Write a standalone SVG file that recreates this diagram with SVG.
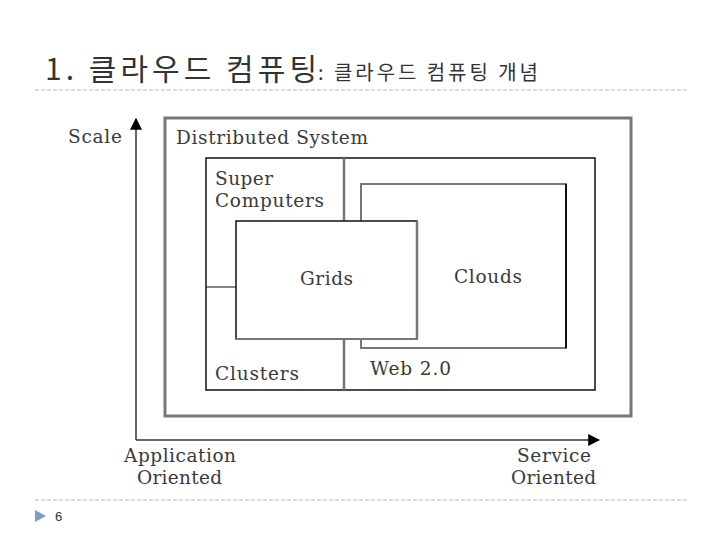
<svg xmlns="http://www.w3.org/2000/svg" width="720" height="540" viewBox="0 0 720 540">
<style>
.t{font-family:"DejaVu Serif","Liberation Serif",serif;font-size:18.5px;fill:#3a3a3a}
.h{font-family:"Noto Sans CJK KR","Liberation Sans",sans-serif;fill:#333}
.dash{stroke:#b8b8b8;stroke-width:1;stroke-dasharray:4 2}
</style>
<defs>
<marker id="ah" viewBox="0 0 10 10" refX="9" refY="5" markerWidth="12" markerHeight="12" markerUnits="userSpaceOnUse" orient="auto"><path d="M0,0 L10,5 L0,10 z" fill="#000"/></marker>
</defs>
<rect width="720" height="540" fill="#fff"/>
<g id="title">
<text x="45" y="80" class="h" font-size="30" textLength="272" lengthAdjust="spacing">1. 클라우드 컴퓨팅</text>
<text x="318" y="80" class="h" font-size="20" textLength="220" lengthAdjust="spacing">: 클라우드 컴퓨팅 개념</text>
<line x1="35" y1="90" x2="688" y2="90" class="dash"/>
</g>
<g id="connectors">
<line x1="136" y1="440" x2="136" y2="119" stroke="#333" stroke-width="1.5" marker-end="url(#ah)"/>
<line x1="136" y1="440" x2="599" y2="440" stroke="#333" stroke-width="1.5" marker-end="url(#ah)"/>
</g>
<g id="distributed">
<rect x="165" y="118" width="466" height="298" fill="#fff" stroke="#777" stroke-width="3"/>
<text x="176" y="144" class="t" textLength="192" lengthAdjust="spacing">Distributed System</text>
</g>
<g id="inner">
<rect x="206" y="158" width="389" height="232" fill="#fff" stroke="#111" stroke-width="1.5"/>
<line x1="344" y1="158" x2="344" y2="390" stroke="#777" stroke-width="2.5"/>
<line x1="206" y1="287" x2="236" y2="287" stroke="#111" stroke-width="1"/>
<text x="215" y="185" class="t" textLength="58" lengthAdjust="spacing">Super</text>
<text x="215" y="207" class="t" textLength="109" lengthAdjust="spacing">Computers</text>
<text x="215" y="380" class="t" textLength="84" lengthAdjust="spacing">Clusters</text>
<text x="370" y="375" class="t" textLength="81" lengthAdjust="spacing">Web 2.0</text>
</g>
<g id="clouds">
<rect x="361" y="184" width="205" height="164" fill="#fff" stroke="#777" stroke-width="2"/>
<line x1="566" y1="184" x2="566" y2="348" stroke="#111" stroke-width="2"/>
<text x="454" y="283" class="t" textLength="68" lengthAdjust="spacing">Clouds</text>
</g>
<g id="grids">
<rect x="236" y="221" width="181" height="118" fill="#fff" stroke="#111" stroke-width="1.5"/>
<line x1="417" y1="221" x2="417" y2="339" stroke="#777" stroke-width="2.5"/>
<line x1="236" y1="339" x2="417" y2="339" stroke="#777" stroke-width="2"/>
<text x="300" y="285" class="t" textLength="53" lengthAdjust="spacing">Grids</text>
</g>
<g id="labels">
<text x="68" y="143" class="t" textLength="54" lengthAdjust="spacing">Scale</text>
<text x="124" y="462" class="t" textLength="112" lengthAdjust="spacing">Application</text>
<text x="137" y="484" class="t" textLength="85" lengthAdjust="spacing">Oriented</text>
<text x="517" y="462" class="t" textLength="74" lengthAdjust="spacing">Service</text>
<text x="511" y="484" class="t" textLength="85" lengthAdjust="spacing">Oriented</text>
</g>
<g id="footer">
<line x1="35" y1="500" x2="688" y2="500" class="dash"/>
<polygon points="35,510 46,516 35,522" fill="#7f9dbf"/>
<text x="55" y="521" font-family="Liberation Sans,sans-serif" font-size="13" fill="#333">6</text>
</g>
</svg>
